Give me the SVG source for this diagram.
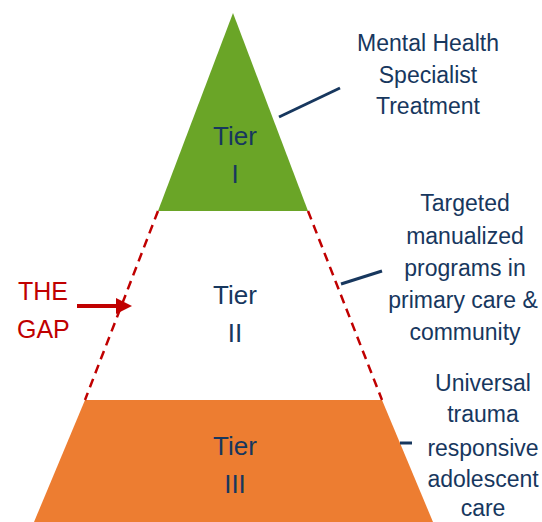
<svg xmlns="http://www.w3.org/2000/svg" width="542" height="522" viewBox="0 0 542 522">
<style>
.tier{font-family:"Liberation Sans",Arial,sans-serif;font-size:26px;fill:#17375E;text-anchor:middle}
.lbl{font-family:"Liberation Sans",Arial,sans-serif;font-size:23px;fill:#17375E;text-anchor:middle}
.gap{font-family:"Liberation Sans",Arial,sans-serif;font-size:25px;fill:#C00000}
.lead{stroke:#17375E;stroke-width:3;fill:none}
.dash{stroke:#C00000;stroke-width:2.5;stroke-dasharray:9 6;fill:none}
</style>
<defs>
<marker id="ah" markerWidth="4" markerHeight="4" refX="0" refY="2" orient="auto" markerUnits="strokeWidth">
<path d="M0,0 L4,2 L0,4 Z" fill="#C00000"/>
</marker>
</defs>
<rect width="542" height="522" fill="#fff"/>
<g id="tier1">
<polygon points="233,13 308,211 158,211" fill="#6AA527"/>
<text class="tier" x="235" y="145">Tier</text>
<text class="tier" x="235" y="183">I</text>
</g>
<g id="tier2">
<text class="tier" x="235" y="304">Tier</text>
<text class="tier" x="235" y="342">II</text>
</g>
<g id="tier3">
<polygon points="85,400 382,400 433,522 34,522" fill="#ED7D31"/>
<text class="tier" x="235" y="455">Tier</text>
<text class="tier" x="235" y="493">III</text>
</g>
<g id="label1">
<text class="lbl" x="428" y="51">Mental Health</text>
<text class="lbl" x="428" y="83">Specialist</text>
<text class="lbl" x="428" y="114">Treatment</text>
</g>
<g id="label2">
<text class="lbl" x="465" y="211">Targeted</text>
<text class="lbl" x="465" y="244">manualized</text>
<text class="lbl" x="465" y="276">programs in</text>
<text class="lbl" x="463" y="308">primary care &amp;</text>
<text class="lbl" x="465" y="340">community</text>
</g>
<g id="label3">
<text class="lbl" x="483" y="391">Universal</text>
<text class="lbl" x="483" y="422">trauma</text>
<text class="lbl" x="483" y="456">responsive</text>
<text class="lbl" x="483" y="487">adolescent</text>
<text class="lbl" x="483" y="516">care</text>
</g>
<g id="gap">
<text class="gap" x="18" y="300">THE</text>
<text class="gap" x="17" y="338">GAP</text>
</g>
<g id="connectors">
<line class="dash" x1="158" y1="211" x2="85" y2="400"/>
<line class="dash" x1="308" y1="211" x2="382" y2="400"/>
<line class="lead" x1="279" y1="117" x2="340" y2="88"/>
<line class="lead" x1="341" y1="284" x2="382" y2="271"/>
<line class="lead" x1="400" y1="443" x2="412" y2="443"/>
<line x1="77" y1="306" x2="116" y2="306" stroke="#C00000" stroke-width="4" marker-end="url(#ah)"/>
</g>
</svg>
